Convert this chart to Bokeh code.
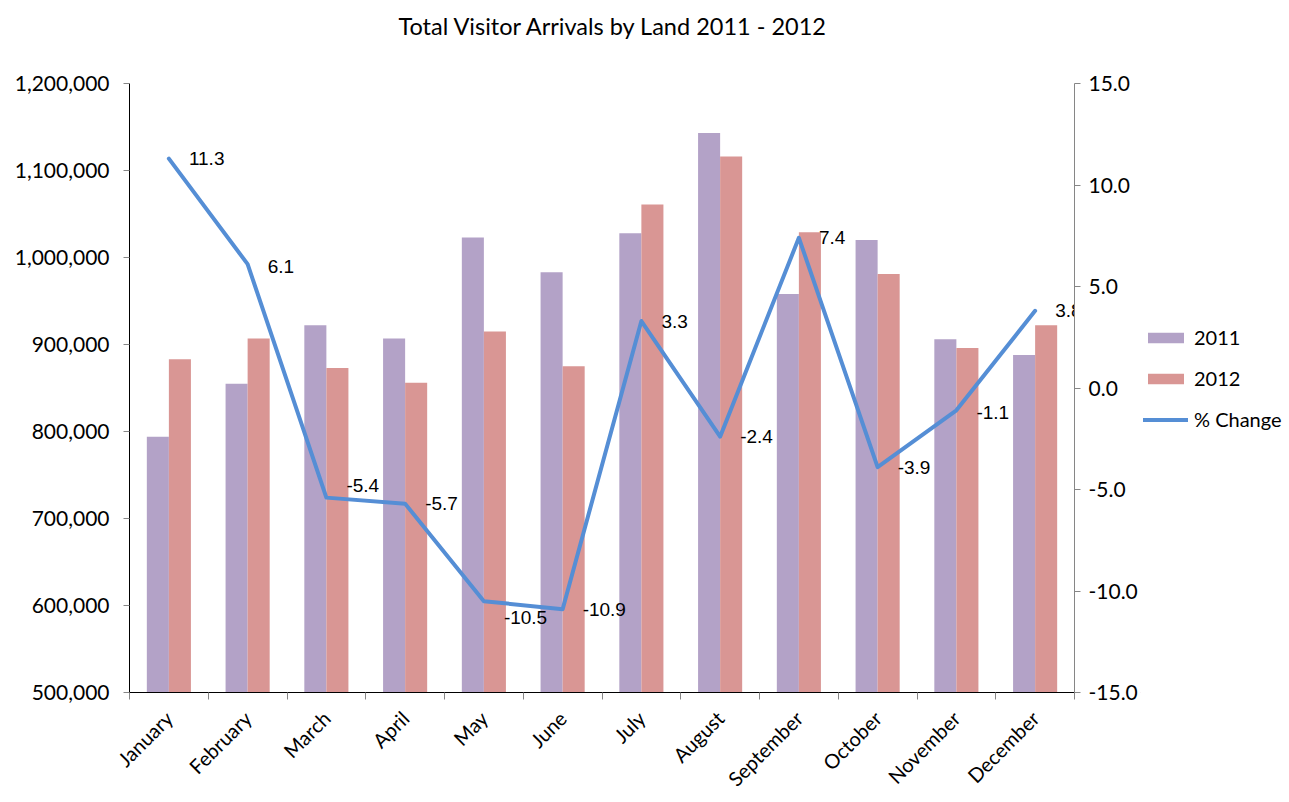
import numpy as np
from math import pi
from bokeh.plotting import figure
from bokeh.layouts import row
from bokeh.models import (Range1d, LinearAxis, FixedTicker, NumeralTickFormatter,
                          Legend, LegendItem, ColumnDataSource, Title)
from bokeh.transform import dodge
from bokeh.core.properties import value
from bokeh.embed import file_html
from bokeh.resources import INLINE

months = ["January", "February", "March", "April", "May", "June", "July",
          "August", "September", "October", "November", "December"]
arrivals_2011 = [794000, 855000, 922000, 907000, 1023000, 983000,
                 1028000, 1143000, 958000, 1020000, 906000, 888000]
arrivals_2012 = [883000, 907000, 873000, 856000, 915000, 875000,
                 1061000, 1116000, 1029000, 981000, 896000, 922000]
pct_change = [11.3, 6.1, -5.4, -5.7, -10.5, -10.9, 3.3, -2.4, 7.4, -3.9, -1.1, 3.8]
left_ticks = [500000, 600000, 700000, 800000, 900000, 1000000, 1100000, 1200000]
right_ticks = [-15, -10, -5, 0, 5, 10, 15]
series_names = ["2011", "2012", "% Change"]
chart_title = "Total Visitor Arrivals by Land 2011 - 2012"

# label nudges (screen px) for a couple of data labels
label_dy = [0, 2, -12, 0, 16, 0, 0, 0, 0, 0, 2, 0]

FONT = "Lato"
C11, C12, CL = "#B3A2C7", "#D99694", "#558ED5"
x_pos = [i + 0.5 for i in range(len(months))]
src = ColumnDataSource(dict(x=x_pos, a11=arrivals_2011, a12=arrivals_2012, pct=pct_change,
                            lbl=[f"{v:.1f}" for v in pct_change], dy=label_dy))

p = figure(width=1140, height=802, x_range=Range1d(0, len(months)),
           y_range=Range1d(left_ticks[0], left_ticks[-1]),
           output_backend="svg", toolbar_location=None,
           min_border_left=129, min_border_right=63, min_border_top=83, min_border_bottom=109)
p.extra_y_ranges = {"pct": Range1d(right_ticks[0], right_ticks[-1])}

p.vbar(x=dodge("x", -0.14, range=p.x_range), width=0.28, top="a11", bottom=left_ticks[0],
       source=src, fill_color=C11, line_color=None)
p.vbar(x=dodge("x", 0.14, range=p.x_range), width=0.28, top="a12", bottom=left_ticks[0],
       source=src, fill_color=C12, line_color=None)
p.line(x="x", y="pct", source=src, y_range_name="pct", line_width=4, line_color=CL,
       line_join="round", line_cap="round")
p.text(x="x", y="pct", text="lbl", source=src, y_range_name="pct", x_offset=20, y_offset="dy",
       text_baseline="middle", text_align="left", text_font=value("Liberation Sans"),
       text_font_size="19px", text_color="#000000")

p.xgrid.visible = False
p.ygrid.visible = False
p.outline_line_color = None

# left axis
ya = p.yaxis[0]
ya.ticker = FixedTicker(ticks=left_ticks)
ya.formatter = NumeralTickFormatter(format="0,0")
ya.axis_line_color = "#000000"
ya.major_tick_line_color = "#868686"
ya.major_tick_in = 0
ya.major_tick_out = 6
ya.minor_tick_line_color = None
ya.major_label_text_font = FONT
ya.major_label_text_font_size = "21px"
ya.major_label_text_color = "#000000"
ya.major_label_standoff = 14

# right axis
ra = LinearAxis(y_range_name="pct", ticker=FixedTicker(ticks=right_ticks),
                formatter=NumeralTickFormatter(format="0.0"))
ra.axis_line_color = "#868686"
ra.major_tick_line_color = "#868686"
ra.major_tick_in = 0
ra.major_tick_out = 6
ra.minor_tick_line_color = None
ra.major_label_text_font = FONT
ra.major_label_text_font_size = "21px"
ra.major_label_text_color = "#000000"
ra.major_label_standoff = 8
p.add_layout(ra, "right")

# bottom axis
xa = p.xaxis[0]
xa.ticker = FixedTicker(ticks=x_pos, minor_ticks=list(range(len(months) + 1)))
xa.major_label_overrides = {x: m for x, m in zip(x_pos, months)}
xa.axis_line_color = "#000000"
xa.major_tick_line_color = None
xa.minor_tick_line_color = "#868686"
xa.minor_tick_in = 0
xa.minor_tick_out = 7
xa.major_label_orientation = pi / 4
xa.major_label_text_font = FONT
xa.major_label_text_font_size = "20px"
xa.major_label_text_color = "#000000"
xa.major_label_standoff = 15

# title: an invisible spacer title next to the frame, the real title above it
p.title.text = ""
spacer = Title(text=" ", text_font_size="10px", standoff=31, text_color="#ffffff")
p.add_layout(spacer, "above")
main_title = Title(text=chart_title, text_font=FONT, text_font_size="23.5px",
                   text_font_style="normal", text_color="#000000", align="left",
                   offset=269, standoff=0)
p.add_layout(main_title, "above")

# legend panel (separate small figure to the right of the chart)
q = figure(width=149, height=802, x_range=Range1d(0, 1), y_range=Range1d(0, 1),
           x_axis_type=None, y_axis_type=None, output_backend="svg", toolbar_location=None,
           min_border=0)
q.xgrid.visible = False
q.ygrid.visible = False
q.outline_line_color = None
# legend swatches only (kept outside the visible range)
g11 = q.vbar(x=[-5], top=[-5], bottom=[-6], width=0.1, fill_color=C11, line_color=None)
g12 = q.vbar(x=[-5], top=[-5], bottom=[-6], width=0.1, fill_color=C12, line_color=None)
gl = q.line(x=[-6, -5], y=[-5, -5], line_width=4, line_color=CL, line_cap="round")
legend = Legend(items=[LegendItem(label=series_names[0], renderers=[g11]),
                       LegendItem(label=series_names[1], renderers=[g12]),
                       LegendItem(label=series_names[2], renderers=[gl])],
                location=(3, 261))
legend.background_fill_alpha = 0
legend.border_line_color = None
legend.padding = 0
legend.margin = 0
legend.spacing = 17
legend.glyph_height = 13
legend.glyph_width = 45
legend.label_height = 20
legend.label_standoff = 6
legend.label_text_font = FONT
legend.label_text_font_size = "20px"
legend.label_text_color = "#000000"
q.add_layout(legend)

layout = row(p, q, spacing=0)
open("out.html", "w").write(file_html(layout, INLINE))
